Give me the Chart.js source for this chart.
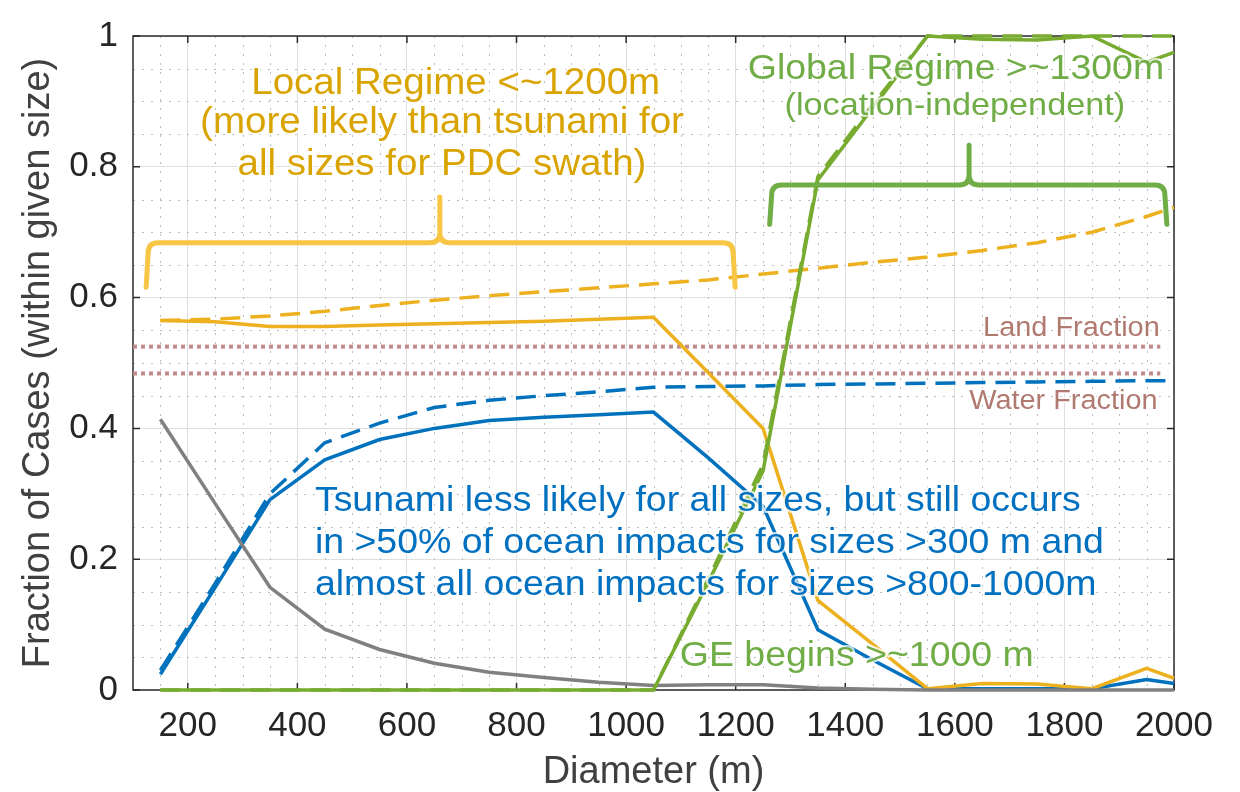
<!DOCTYPE html>
<html>
<head>
<meta charset="utf-8">
<title>Fraction of Cases vs Diameter</title>
<script src="https://cdn.jsdelivr.net/npm/chart.js@4.4.1/dist/chart.umd.min.js"></script>
<style>
  html, body { margin: 0; padding: 0; background: #ffffff; }
  canvas { display: block; }
</style>
</head>
<body>
<canvas id="fracChart" width="1240" height="792"></canvas>
<script>
// Diameter bins (m)
const diameters = [150, 250, 350, 450, 550, 650, 750, 850, 950, 1050, 1150, 1250, 1350, 1450, 1550, 1650, 1750, 1850, 1950, 2000];

// Fraction of cases per outcome (solid / dashed variants)
const landSolid     = [0.565, 0.563, 0.556, 0.556, 0.558, 0.560, 0.562, 0.564, 0.567, 0.570, 0.485, 0.400, 0.137, 0.070, 0.002, 0.010, 0.009, 0.002, 0.033, 0.018];
const landDashed    = [0.565, 0.567, 0.572, 0.579, 0.588, 0.596, 0.603, 0.609, 0.615, 0.621, 0.627, 0.636, 0.645, 0.654, 0.662, 0.672, 0.684, 0.700, 0.724, 0.738];
const tsunamiSolid  = [0.024, 0.157, 0.291, 0.352, 0.383, 0.400, 0.412, 0.417, 0.421, 0.425, 0.355, 0.281, 0.092, 0.046, 0.002, 0.002, 0.002, 0.002, 0.016, 0.010];
const tsunamiDashed = [0.030, 0.163, 0.300, 0.378, 0.408, 0.432, 0.443, 0.450, 0.456, 0.463, 0.464, 0.465, 0.467, 0.468, 0.469, 0.470, 0.471, 0.472, 0.473, 0.473];
const globalSolid   = [0, 0, 0, 0, 0, 0, 0, 0, 0, 0, 0.165, 0.335, 0.780, 0.890, 1.000, 0.995, 0.994, 1.000, 0.960, 0.975];
const globalDashed  = [0, 0, 0, 0, 0, 0, 0, 0, 0, 0, 0.170, 0.345, 0.785, 0.895, 1.000, 1.000, 1.000, 1.000, 1.000, 1.000];
const noDamage      = [0.414, 0.285, 0.157, 0.093, 0.062, 0.041, 0.027, 0.019, 0.012, 0.007, 0.008, 0.008, 0.003, 0.001, 0, 0, 0, 0, 0, 0];

// Reference fractions
const refExtent = [100, 1975];
const landFraction = [0.525, 0.525];
const waterFraction = [0.484, 0.484];

// Tick labels
const xTicks = [200, 400, 600, 800, 1000, 1200, 1400, 1600, 1800, 2000];
const yTicks = [0, 0.2, 0.4, 0.6, 0.8, 1];

const FONT = '"Liberation Sans", Arial, Helvetica, sans-serif';
const BLUE = '#0072BD';
const ORANGE = '#EDB120';
const GREEN = '#77AC30';
const GRAY = '#808080';
const DASH = [20, 10];

const toPoints = (xs, ys) => xs.map((x, i) => ({ x: x, y: ys[i] }));

// Annotation texts, anchored in data units (x in m, y in fraction)
const notes = [
    { text: 'Local Regime <~1200m', x: 689, y: 0.912, align: 'center', size: 36, color: '#D9A400' },
    { text: '(more likely than tsunami for', x: 664, y: 0.851, align: 'center', size: 36, color: '#D9A400' },
    { text: 'all sizes for PDC swath)', x: 664, y: 0.787, align: 'center', size: 36, color: '#D9A400' },
    { text: 'Global Regime >~1300m', x: 1602, y: 0.934, align: 'center', size: 35, color: '#70AD47' },
    { text: '(location-independent)', x: 1600, y: 0.879, align: 'center', size: 32, color: '#70AD47' },
    { text: 'Tsunami less likely for all sizes, but still occurs', x: 432, y: 0.273, align: 'left', size: 35, color: '#0070C0' },
    { text: 'in >50% of ocean impacts for sizes >300 m and', x: 432, y: 0.210, align: 'left', size: 35, color: '#0070C0' },
    { text: 'almost all ocean impacts for sizes >800-1000m', x: 432, y: 0.145, align: 'left', size: 35, color: '#0070C0' },
    { text: 'GE begins >~1000 m', x: 1098, y: 0.037, align: 'left', size: 35, color: '#70AD47' },
    { text: 'Land Fraction', x: 1974, y: 0.542, align: 'right', size: 27, color: '#B07A70' },
    { text: 'Water Fraction', x: 1970, y: 0.430, align: 'right', size: 27, color: '#B07A70' }
];

// Curly braces marking the regimes
const braces = [
    { x1: 124, xc: 660, x2: 1199, yEnd: 0.616, yH: 0.684, yPeak: 0.754, color: '#F6C644' },
    { x1: 1262, xc: 1626, x2: 1987, yEnd: 0.712, yH: 0.772, yPeak: 0.833, color: '#70AD47' }
];

const drawText = (ctx, t, px, py) => {
    ctx.save();
    ctx.translate(px, py);
    ctx.scale(1.07, 1);
    ctx.font = `${t.size}px ${FONT}`;
    ctx.textAlign = t.align;
    ctx.textBaseline = 'alphabetic';
    ctx.lineJoin = 'round';
    ctx.strokeStyle = 'rgba(255,255,255,0.75)';
    ctx.lineWidth = 4;
    ctx.strokeText(t.text, 0, 0);
    ctx.fillStyle = t.color;
    ctx.fillText(t.text, 0, 0);
    ctx.restore();
};

const drawBrace = (ctx, b, x, y) => {
    const x1 = x.getPixelForValue(b.x1);
    const xc = x.getPixelForValue(b.xc);
    const x2 = x.getPixelForValue(b.x2);
    const yE = y.getPixelForValue(b.yEnd);
    const yH = y.getPixelForValue(b.yH);
    const yP = y.getPixelForValue(b.yPeak);
    const r = 10;
    ctx.save();
    ctx.beginPath();
    ctx.moveTo(x1, yE);
    ctx.lineTo(x1 + 2, yH + r);
    ctx.quadraticCurveTo(x1 + 2, yH, x1 + 2 + r, yH);
    ctx.lineTo(xc - r, yH);
    ctx.quadraticCurveTo(xc, yH, xc, yH - r);
    ctx.lineTo(xc, yP);
    ctx.moveTo(xc, yH - r);
    ctx.quadraticCurveTo(xc, yH, xc + r, yH);
    ctx.lineTo(x2 - 2 - r, yH);
    ctx.quadraticCurveTo(x2 - 2, yH, x2 - 2, yH + r);
    ctx.lineTo(x2, yE);
    ctx.strokeStyle = b.color;
    ctx.lineWidth = 5;
    ctx.lineCap = 'round';
    ctx.lineJoin = 'round';
    ctx.stroke();
    ctx.restore();
};

// Minor grid, axes box, inward ticks and annotations
const decorations = {
    id: 'decorations',
    beforeDatasetsDraw(chart) {
        const { ctx, chartArea: a, scales: { x, y } } = chart;
        ctx.save();
        ctx.strokeStyle = '#bdbdbd';
        ctx.lineWidth = 1;
        ctx.setLineDash([2, 7]);
        for (let v = 150; v < 2000; v += 50) {
            if (v % 200 === 0) continue;
            const px = Math.round(x.getPixelForValue(v)) + 0.5;
            ctx.beginPath();
            ctx.moveTo(px, a.top);
            ctx.lineTo(px, a.bottom);
            ctx.stroke();
        }
        for (let k = 1; k < 20; k++) {
            if (k % 4 === 0) continue;
            const py = Math.round(y.getPixelForValue(k * 0.05)) + 0.5;
            ctx.beginPath();
            ctx.moveTo(a.left, py);
            ctx.lineTo(a.right, py);
            ctx.stroke();
        }
        ctx.setLineDash([]);

        // box
        ctx.strokeStyle = '#2b2b2b';
        ctx.lineWidth = 1.5;
        ctx.strokeRect(a.left, a.top, a.right - a.left, a.bottom - a.top);

        // inward ticks
        const tl = 7;
        ctx.beginPath();
        xTicks.forEach(v => {
            const px = x.getPixelForValue(v);
            ctx.moveTo(px, a.bottom); ctx.lineTo(px, a.bottom - tl);
            ctx.moveTo(px, a.top); ctx.lineTo(px, a.top + tl);
        });
        yTicks.forEach(v => {
            const py = y.getPixelForValue(v);
            ctx.moveTo(a.left, py); ctx.lineTo(a.left + tl, py);
            ctx.moveTo(a.right, py); ctx.lineTo(a.right - tl, py);
        });
        ctx.stroke();
        ctx.restore();
    },
    afterDatasetsDraw(chart) {
        const { ctx, scales: { x, y } } = chart;
        braces.forEach(b => drawBrace(ctx, b, x, y));
        notes.forEach(t => drawText(ctx, t, x.getPixelForValue(t.x), y.getPixelForValue(t.y)));
    }
};

const lineSet = (data, color, dashed) => ({
    data: toPoints(diameters, data),
    borderColor: color,
    borderWidth: 3.5,
    borderDash: dashed ? DASH : [],
    pointRadius: 0,
    tension: 0,
    fill: false,
    clip: 6
});

const ctx = document.getElementById('fracChart').getContext('2d');
new Chart(ctx, {
    type: 'line',
    data: {
        datasets: [
            lineSet(globalSolid, GREEN, false),
            lineSet(globalDashed, GREEN, true),
            lineSet(noDamage, GRAY, false),
            lineSet(landSolid, ORANGE, false),
            lineSet(landDashed, ORANGE, true),
            lineSet(tsunamiSolid, BLUE, false),
            lineSet(tsunamiDashed, BLUE, true),
            {
                data: toPoints(refExtent, landFraction),
                borderColor: '#BE8C8C',
                borderWidth: 4,
                borderDash: [4, 4],
                pointRadius: 0
            },
            {
                data: toPoints(refExtent, waterFraction),
                borderColor: '#BE8C8C',
                borderWidth: 4,
                borderDash: [4, 4],
                pointRadius: 0
            }
        ]
    },
    options: {
        responsive: false,
        animation: false,
        events: [],
        layout: { padding: { left: 0, right: 66, top: 20, bottom: 0 } },
        plugins: {
            legend: { display: false },
            tooltip: { enabled: false }
        },
        scales: {
            x: {
                type: 'linear',
                min: 100,
                max: 2000,
                afterBuildTicks: (s) => { s.ticks = xTicks.map(v => ({ value: v })); },
                afterFit: (s) => { s.height = 102; },
                grid: { color: '#dedede', lineWidth: 1, drawTicks: false },
                border: { display: false },
                ticks: {
                    padding: 15,
                    maxRotation: 0,
                    autoSkip: false,
                    color: '#262626',
                    font: { family: FONT, size: 35 },
                    callback: (v) => String(v)
                },
                title: {
                    display: true,
                    text: 'Diameter (m)',
                    color: '#404040',
                    font: { family: FONT, size: 38, lineHeight: 1 },
                    padding: { top: 0, bottom: 0 }
                }
            },
            y: {
                min: 0,
                max: 1,
                afterBuildTicks: (s) => { s.ticks = yTicks.map(v => ({ value: v })); },
                afterFit: (s) => { s.width = 133; },
                grid: { color: '#dedede', lineWidth: 1, drawTicks: false },
                border: { display: false },
                ticks: {
                    padding: 15,
                    color: '#262626',
                    font: { family: FONT, size: 35 },
                    callback: (v) => String(v)
                },
                title: {
                    display: true,
                    text: 'Fraction of Cases (within given size)',
                    color: '#404040',
                    font: { family: FONT, size: 38, lineHeight: 1 },
                    padding: { top: 20, bottom: 0 }
                }
            }
        }
    },
    plugins: [decorations]
});
</script>
</body>
</html>
